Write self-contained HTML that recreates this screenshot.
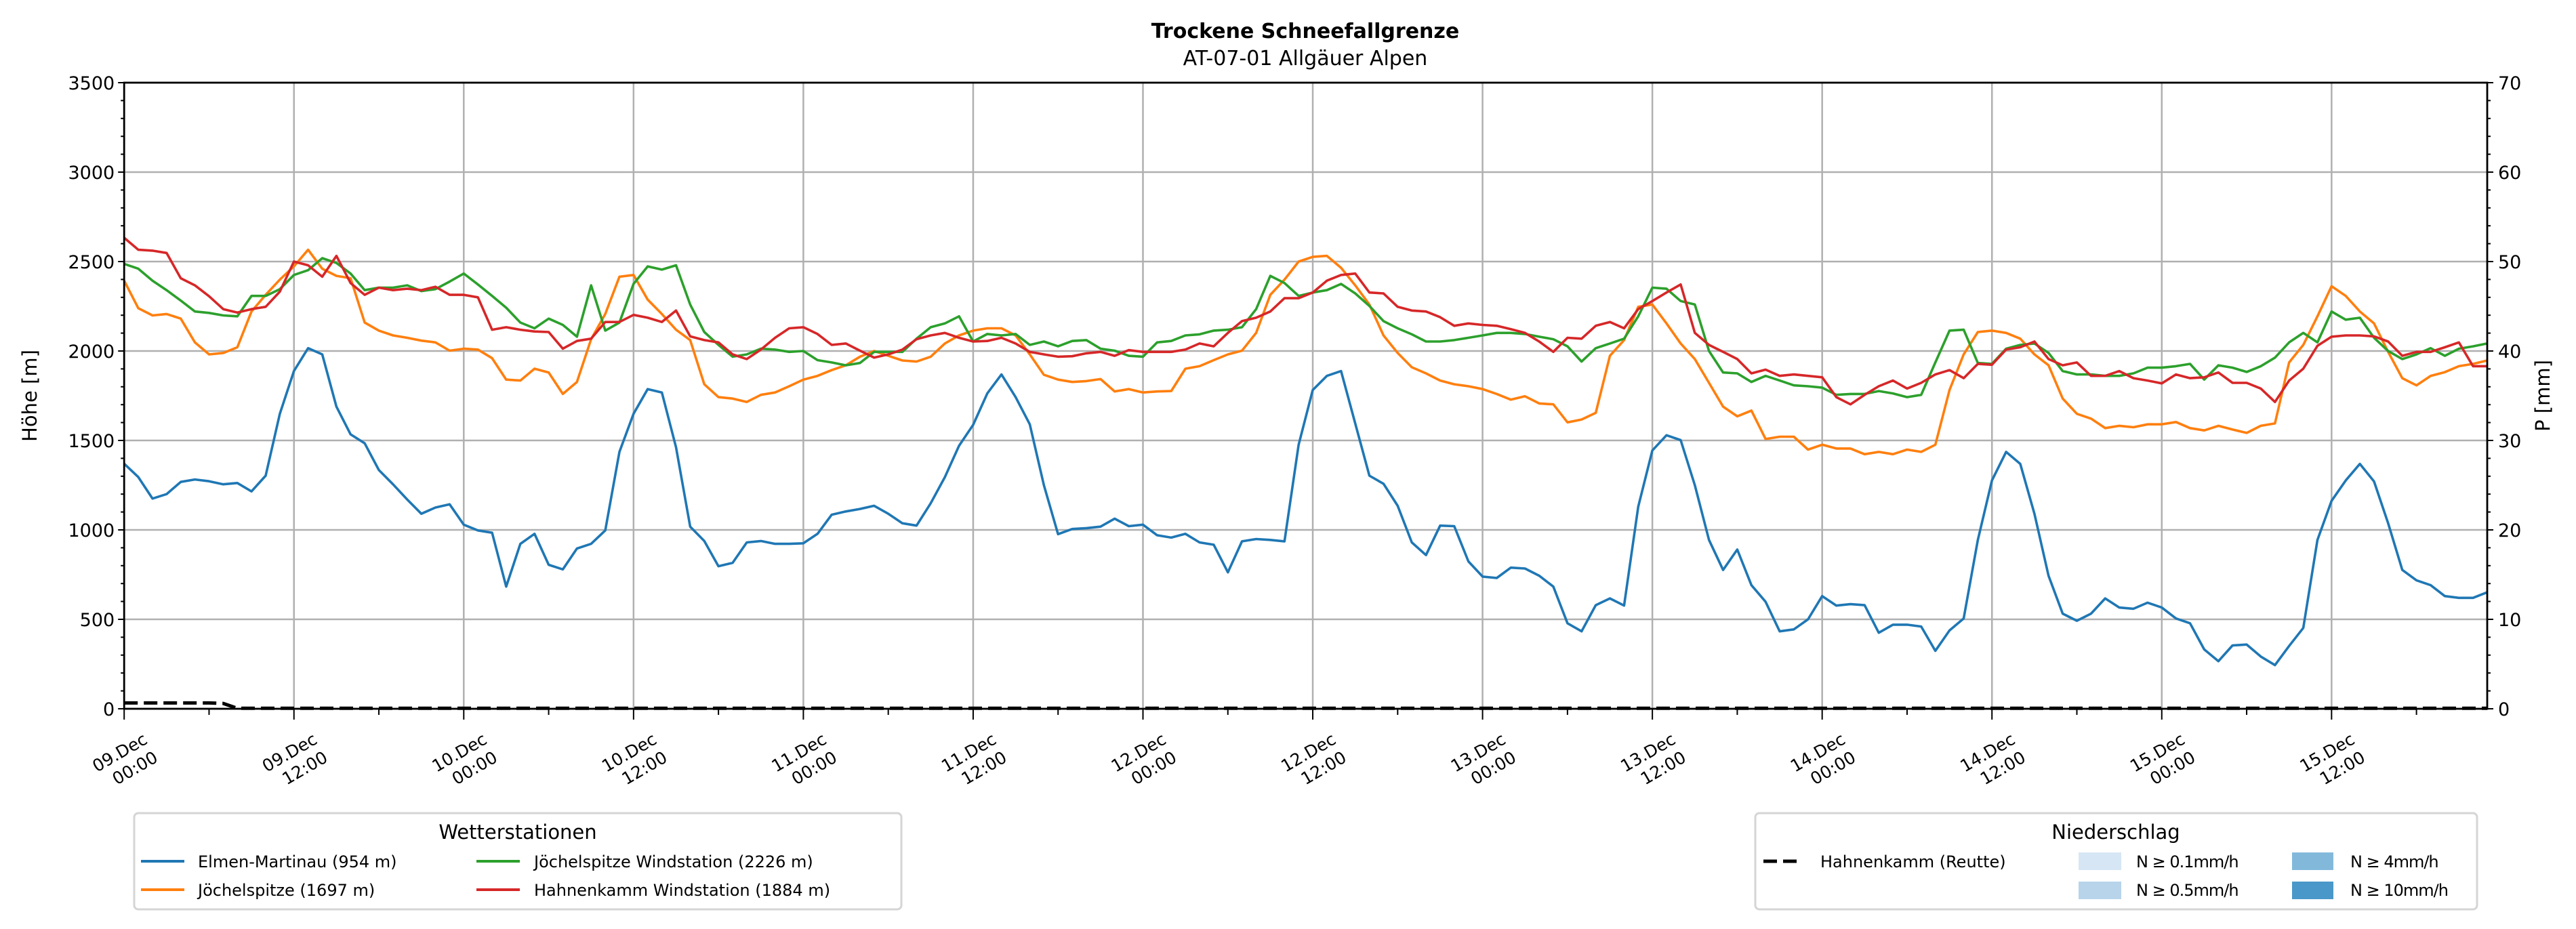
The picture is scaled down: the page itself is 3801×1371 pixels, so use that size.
<!DOCTYPE html>
<html><head><meta charset="utf-8">
<style>
html,body{margin:0;padding:0;background:#fff;}
svg{display:block;font-family:"DejaVu Sans","Liberation Sans",sans-serif;}
</style></head>
<body>
<svg id="chart" xmlns="http://www.w3.org/2000/svg" width="3801" height="1371" viewBox="0 0 3801 1371">
<rect x="0" y="0" width="3801" height="1371" fill="#fff"/>
<text x="1926" y="56" font-size="30" font-weight="bold" text-anchor="middle">Trockene Schneefallgrenze</text>
<text x="1926" y="96" font-size="30" text-anchor="middle">AT-07-01 Allgäuer Alpen</text>
<g id="grid"></g>
<g id="series"></g>
<g id="axes"></g>
<text transform="translate(54,584) rotate(-90)" font-size="29" text-anchor="middle">Höhe [m]</text>
<text transform="translate(3762,584) rotate(-90)" font-size="29" text-anchor="middle">P [mm]</text>

<g>
<rect x="198" y="1200" width="1132" height="142" rx="6" fill="#fff" stroke="#d5d5d5" stroke-width="3"/>
<text x="764" y="1238" font-size="29" text-anchor="middle">Wetterstationen</text>
<g><line x1="208" y1="1271" x2="272" y2="1271" stroke="#1f77b4" stroke-width="4"/><text x="292" y="1280" font-size="24">Elmen-Martinau (954 m)</text></g>
<g><line x1="208" y1="1313" x2="272" y2="1313" stroke="#ff7f0e" stroke-width="4"/><text x="292" y="1322" font-size="24">Jöchelspitze (1697 m)</text></g>
<g><line x1="703" y1="1271" x2="767" y2="1271" stroke="#2ca02c" stroke-width="4"/><text x="788" y="1280" font-size="24">Jöchelspitze Windstation (2226 m)</text></g>
<g><line x1="703" y1="1313" x2="767" y2="1313" stroke="#d62728" stroke-width="4"/><text x="788" y="1322" font-size="24">Hahnenkamm Windstation (1884 m)</text></g>
</g>

<g>
<rect x="2590" y="1200" width="1065" height="142" rx="6" fill="#fff" stroke="#d5d5d5" stroke-width="3"/>
<text x="3122" y="1238" font-size="29" text-anchor="middle">Niederschlag</text>
<g><line x1="2602" y1="1271" x2="2659" y2="1271" stroke="#000" stroke-width="5" stroke-dasharray="20,9"/><text x="2686" y="1280" font-size="24">Hahnenkamm (Reutte)</text></g>
<g><rect x="3067" y="1258" width="63" height="26" fill="#d6e6f4"/><text x="3152" y="1280" font-size="24" letter-spacing="-1">N ≥ 0.1mm/h</text></g>
<g><rect x="3067" y="1301" width="63" height="26" fill="#b7d4ea"/><text x="3152" y="1322" font-size="24" letter-spacing="-1">N ≥ 0.5mm/h</text></g>
<g><rect x="3382" y="1258" width="61" height="26" fill="#82b9db"/><text x="3468" y="1280" font-size="24" letter-spacing="-1">N ≥ 4mm/h</text></g>
<g><rect x="3382" y="1301" width="61" height="26" fill="#4a98c9"/><text x="3468" y="1322" font-size="24" letter-spacing="-1">N ≥ 10mm/h</text></g>
</g>
</svg>
<script>
const elmen=[1370,1295,1175,1200,1268,1282,1272,1255,1262,1215,1303,1649,1888,2016,1981,1689,1534,1484,1335,1255,1170,1090,1125,1143,1029,997,984,683,922,978,805,779,896,922,997,1436,1649,1787,1768,1462,1018,938,797,816,930,938,922,922,925,978,1085,1103,1117,1135,1090,1037,1024,1149,1295,1470,1587,1763,1869,1742,1590,1250,976,1005,1010,1018,1063,1021,1029,970,957,978,930,917,763,936,949,944,936,1476,1782,1861,1888,1595,1303,1258,1135,930,859,1024,1021,824,739,731,789,784,744,683,478,433,579,617,577,1130,1444,1529,1502,1250,944,776,890,691,598,433,444,500,630,577,585,579,425,470,470,460,324,438,505,944,1276,1436,1369,1090,744,532,492,532,617,566,559,593,566,505,478,332,266,354,359,292,244,351,452,944,1162,1276,1369,1271,1037,776,718,691,630,620,620,651];
const joech=[2393,2239,2199,2207,2181,2048,1981,1989,2021,2221,2314,2399,2473,2566,2460,2420,2407,2159,2114,2087,2074,2058,2048,2002,2013,2008,1960,1840,1835,1901,1880,1760,1827,2066,2207,2415,2425,2287,2207,2119,2061,1814,1742,1734,1715,1755,1768,1803,1840,1861,1893,1920,1968,2000,1973,1947,1941,1968,2042,2087,2114,2127,2127,2087,1981,1867,1840,1827,1832,1843,1774,1787,1768,1774,1776,1901,1915,1949,1981,2002,2101,2314,2399,2500,2526,2532,2465,2367,2260,2087,1989,1909,1875,1835,1814,1803,1787,1760,1728,1747,1707,1702,1601,1617,1654,1973,2061,2247,2260,2154,2042,1955,1822,1689,1635,1667,1508,1521,1521,1449,1476,1455,1455,1423,1436,1423,1449,1436,1476,1782,1981,2106,2114,2101,2069,1981,1920,1734,1649,1622,1569,1582,1574,1590,1590,1603,1569,1556,1582,1561,1542,1582,1595,1936,2034,2194,2362,2308,2221,2154,1995,1848,1808,1861,1882,1915,1928,1947];
const joechWind=[2487,2460,2393,2340,2282,2221,2213,2199,2194,2308,2308,2346,2425,2452,2519,2492,2433,2340,2354,2354,2367,2335,2346,2388,2433,2372,2308,2242,2159,2127,2181,2146,2080,2367,2114,2159,2375,2473,2455,2479,2260,2106,2034,1968,1981,2013,2008,1995,2000,1949,1936,1920,1933,1995,1995,1995,2069,2133,2154,2194,2053,2095,2087,2095,2034,2053,2026,2056,2061,2013,2002,1973,1968,2048,2056,2087,2093,2114,2119,2133,2234,2420,2380,2308,2327,2340,2375,2322,2252,2167,2127,2093,2053,2053,2061,2074,2087,2101,2101,2095,2080,2066,2026,1941,2016,2042,2069,2194,2354,2348,2279,2260,2000,1880,1875,1827,1861,1835,1808,1803,1795,1755,1760,1760,1776,1763,1742,1755,1936,2114,2119,1933,1928,2013,2034,2042,1989,1888,1869,1869,1861,1861,1875,1907,1907,1915,1928,1840,1920,1907,1883,1915,1963,2048,2101,2048,2221,2175,2186,2074,2000,1955,1981,2016,1973,2013,2026,2042];
const hahnWind=[2633,2566,2561,2548,2407,2367,2306,2234,2215,2234,2247,2332,2500,2479,2415,2532,2380,2314,2354,2340,2348,2340,2359,2314,2314,2300,2119,2133,2119,2109,2106,2013,2056,2069,2162,2162,2202,2186,2162,2226,2082,2061,2048,1981,1955,2008,2074,2127,2133,2095,2034,2042,2002,1963,1981,2008,2066,2087,2101,2074,2053,2056,2074,2042,1995,1981,1968,1971,1987,1995,1973,2005,1995,1995,1995,2008,2042,2026,2101,2167,2186,2221,2295,2295,2327,2393,2425,2433,2327,2322,2247,2226,2221,2189,2141,2154,2146,2141,2122,2101,2053,1995,2074,2069,2141,2162,2127,2234,2279,2327,2372,2101,2034,1995,1955,1875,1896,1861,1869,1861,1853,1742,1702,1755,1803,1835,1790,1822,1869,1893,1848,1928,1923,2008,2021,2053,1955,1920,1936,1861,1861,1888,1848,1835,1819,1869,1848,1853,1880,1822,1822,1790,1715,1835,1901,2029,2080,2087,2087,2082,2053,1973,1995,1995,2021,2048,1915,1915];
const reuttePrecip=[0.65,0.65,0.65,0.65,0.65,0.65,0.65,0.6,0.05].concat(new Array(159).fill(0.05));
const yTicks=[0,500,1000,1500,2000,2500,3000,3500];
const pTicks=[0,10,20,30,40,50,60,70];
const xTickDays=["09.Dec","09.Dec","10.Dec","10.Dec","11.Dec","11.Dec","12.Dec","12.Dec","13.Dec","13.Dec","14.Dec","14.Dec","15.Dec","15.Dec"];
const xTickTimes=["00:00","12:00","00:00","12:00","00:00","12:00","00:00","12:00","00:00","12:00","00:00","12:00","00:00","12:00"];

const L=183.2,R=3670,T=122,B=1046,NH=167;
const X=h=>L+(R-L)*h/NH;
const Y=v=>B-(B-T)*v/3500;
const YP=p=>B-(B-T)*p/70;
const NS="http://www.w3.org/2000/svg";
function mk(tag,attrs,parent){const e=document.createElementNS(NS,tag);for(const k in attrs)e.setAttribute(k,attrs[k]);parent.appendChild(e);return e;}
const grid=document.getElementById('grid'),axes=document.getElementById('axes'),ser=document.getElementById('series');
yTicks.forEach(v=>{const l=mk('line',{x1:L,x2:R,y1:Y(v),y2:Y(v),stroke:'#b0b0b0','stroke-width':2.5},grid);

});
xTickDays.forEach((d,i)=>{const l=mk('line',{x1:X(i*12),x2:X(i*12),y1:T,y2:B,stroke:'#b0b0b0','stroke-width':2.5},grid);

});
function line(data,color,name,scale,dash){
  const pts=data.map((v,i)=>X(i).toFixed(1)+','+scale(v).toFixed(1)).join(' ');
  const p=mk('polyline',{points:pts,fill:'none',stroke:color,'stroke-width':dash?5:3.6,'stroke-linejoin':'round'},ser);
  if(dash)p.setAttribute('stroke-dasharray','20,9');
  
  
}
line(elmen,'#1f77b4','line-elmen-martinau',Y);
line(joech,'#ff7f0e','line-joechelspitze',Y);
line(joechWind,'#2ca02c','line-joechelspitze-windstation',Y);
line(hahnWind,'#d62728','line-hahnenkamm-windstation',Y);
line(reuttePrecip,'#000','line-hahnenkamm-reutte-precip',YP,true);
const fr=mk('rect',{x:L,y:T,width:R-L,height:B-T,fill:'none',stroke:'#000','stroke-width':2.8},axes);


for(let v=0;v<=3500;v+=100){const maj=v%500===0;mk('line',{x1:L,x2:L-(maj?9:5),y1:Y(v),y2:Y(v),stroke:'#000','stroke-width':2},axes);}
yTicks.forEach(v=>{const t=mk('text',{x:L-14,y:Y(v)+10,'font-size':27,'text-anchor':'end'},axes);t.textContent=v;

});
for(let p=0;p<=70;p+=2){const maj=p%10===0;mk('line',{x1:R,x2:R+(maj?9:5),y1:YP(p),y2:YP(p),stroke:'#000','stroke-width':2},axes);}
pTicks.forEach(p=>{const t=mk('text',{x:R+16,y:YP(p)+10,'font-size':27},axes);t.textContent=p;

});
for(let h=0;h<=NH;h+=6){const maj=h%12===0;mk('line',{x1:X(h),x2:X(h),y1:B,y2:B+(maj?16:9),stroke:'#000','stroke-width':2},axes);}
xTickDays.forEach((d,i)=>{
  const g=mk('g',{transform:'translate('+(X(i*12)+36)+',1096) rotate(-30)'},axes);
  
  
  const a=mk('text',{x:0,y:0,'font-size':25,'text-anchor':'end'},g);a.textContent=d;
  const b=mk('text',{x:0,y:31,'font-size':25,'text-anchor':'end'},g);b.textContent=xTickTimes[i];
});
</script>
</body></html>
